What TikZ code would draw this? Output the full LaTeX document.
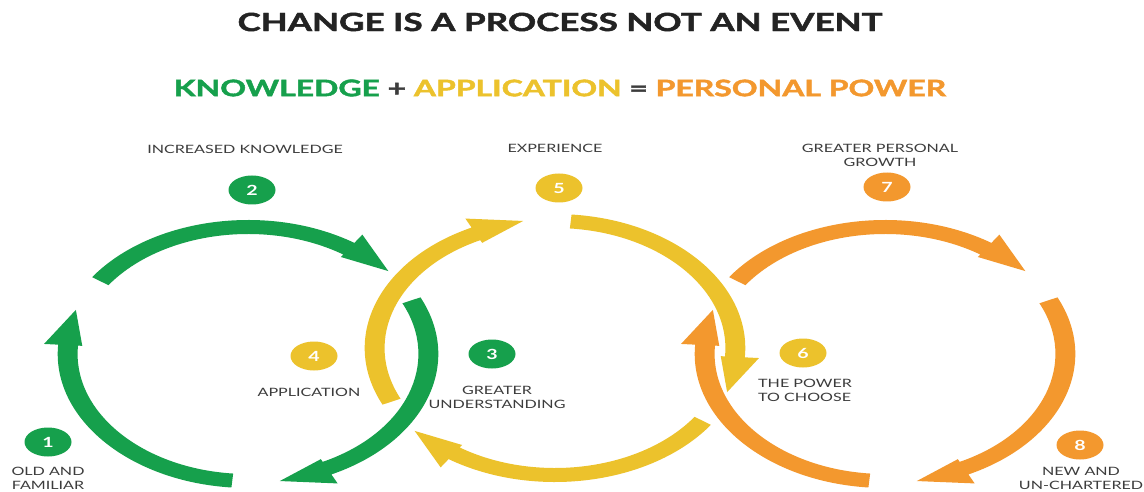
\documentclass[tikz,border=0pt]{standalone}
\usepackage{fontspec}
\setmainfont{Lato}
\newfontfamily\heavy{Lato}[BoldFeatures={FakeBold=1.6}]
\usepackage{graphicx}
\usetikzlibrary{shapes.geometric}
\definecolor{kgreen}{RGB}{22,160,76}
\definecolor{kyellow}{RGB}{236,194,44}
\definecolor{korange}{RGB}{243,152,46}
\definecolor{titlec}{RGB}{35,35,35}
\definecolor{labc}{RGB}{60,60,60}
\newcommand\sx[1]{\scalebox{1.4}[1]{#1}}
% band arrow geometry (unstretched units)
\newcommand\Ro{134}
\newcommand\Ri{120}
\newcommand\Rh{144}
\newcommand\Rl{117}
\newcommand\Rt{129}
\newcommand\hd{16}
\newcommand\bandarrow[3]{%
  \fill[#1] (#2:\Ro) arc[start angle=#2, end angle=#3+\hd, radius=\Ro]
    -- (#3+\hd:\Rh) -- (#3:\Rt) -- (#3+\hd:\Rl) -- (#3+\hd:\Ri)
    arc[start angle=#3+\hd, end angle=#2, radius=\Ri] -- cycle;}
\tikzset{
  lab/.style={font=\fontsize{11.5}{14}\selectfont, text=labc, align=center, inner sep=0pt},
  badge/.style={ellipse, minimum width=47pt, minimum height=29pt, inner sep=0pt,
    text=white, font=\bfseries\fontsize{14}{14}\selectfont},
  ring/.style={yscale=-1, xscale=1.42}
}
\begin{document}
\begin{tikzpicture}[x=1pt,y=-1pt]
\fill[white] (0,0) rectangle (1144,492);
\useasboundingbox (0,0) rectangle (1144,492);

\node[font=\heavy\bfseries\fontsize{25}{25}\selectfont, text=titlec] (title) at (560,22)
  {\sx{CHANGE IS A PROCESS NOT AN EVENT}};
\node[font=\heavy\bfseries\fontsize{22.8}{23}\selectfont, text=labc] (sub) at (560,88)
  {\sx{\textcolor{kgreen}{KNOWLEDGE} + \textcolor{kyellow}{APPLICATION} = \textcolor{korange}{PERSONAL POWER}}};

% orange ring
\begin{scope}[shift={(885,354)}, ring]
  \bandarrow{korange}{265}{160}
  \bandarrow{korange}{145}{40}
  \bandarrow{korange}{25}{-80}
\end{scope}
% yellow ring
\begin{scope}[shift={(555,348)}, ring]
  \bandarrow{kyellow}{205}{100}
  \bandarrow{kyellow}{85}{-20}
  \bandarrow{kyellow}{-35}{-140}
\end{scope}
% green ring
\begin{scope}[shift={(248,354)}, ring]
  \bandarrow{kgreen}{265}{160}
  \bandarrow{kgreen}{145}{40}
  \bandarrow{kgreen}{25}{-80}
\end{scope}

% badges
\node[badge, fill=kgreen]   (b1) at (48,442)  {\sx{1}};
\node[badge, fill=kgreen]   (b2) at (252,190) {\sx{2}};
\node[badge, fill=kgreen]   (b3) at (492,354) {\sx{3}};
\node[badge, fill=kyellow]  (b4) at (314,356) {\sx{4}};
\node[badge, fill=kyellow]  (b5) at (559,188) {\sx{5}};
\node[badge, fill=kyellow]  (b6) at (803,353) {\sx{6}};
\node[badge, fill=korange]  (b7) at (887,187) {\sx{7}};
\node[badge, fill=korange]  (b8) at (1080,445) {\sx{8}};

% labels
\node[lab] (l1) at (48,478) {\sx{OLD AND}\\\sx{FAMILIAR}};
\node[lab] (l2) at (245,149) {\sx{INCREASED KNOWLEDGE}};
\node[lab] (l3) at (497,397) {\sx{GREATER}\\\sx{UNDERSTANDING}};
\node[lab] (l4) at (309,392) {\sx{APPLICATION}};
\node[lab] (l5) at (555,148) {\sx{EXPERIENCE}};
\node[lab, align=left, anchor=west] (l6) at (758,390) {\sx{THE POWER}\\\sx{TO CHOOSE}};
\node[lab] (l7) at (880,155) {\sx{GREATER PERSONAL}\\\sx{GROWTH}};
\node[lab] (l8) at (1081,478) {\sx{NEW AND}\\\sx{UN-CHARTERED}};
\end{tikzpicture}
\end{document}
